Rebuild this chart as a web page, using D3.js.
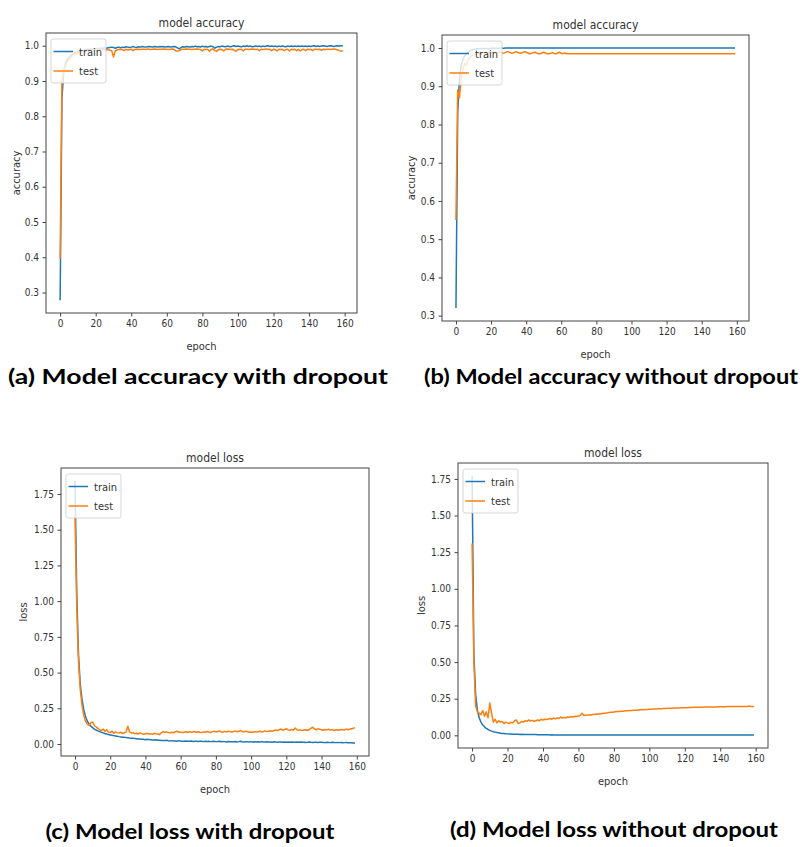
<!DOCTYPE html>
<html>
<head>
<meta charset="utf-8">
<script src="https://cdn.jsdelivr.net/npm/d3@7"></script>
<style>
  body { margin: 0; background: #fff; }
  svg text { font-family: "DejaVu Sans", sans-serif; font-stretch: condensed; fill: #333; }
  svg text.caption { font-family: Lato, "Open Sans", sans-serif; font-weight: bold; font-stretch: normal; fill: #000; }
</style>
</head>
<body>
<svg id="chart" width="802" height="847"></svg>
<script>
const xTicks = [0, 20, 40, 60, 80, 100, 120, 140, 160];
const accTicks = [0.3, 0.4, 0.5, 0.6, 0.7, 0.8, 0.9, 1.0];
const lossTicks = [0, 0.25, 0.5, 0.75, 1.0, 1.25, 1.5, 1.75];
const seriesNames = ["train", "test"];

// (a) accuracy, with dropout
const accTrainDrop = [
  0.278,0.850,0.925,0.950,0.962,0.968,0.972,0.976,0.979,0.981,
  0.983,0.985,0.986,0.987,0.988,0.989,0.990,0.990,0.991,0.991,
  0.992,0.992,0.993,0.992,0.993,0.994,0.993,0.994,0.995,0.996,
  0.995,0.993,0.995,0.996,0.994,0.996,0.995,0.997,0.996,0.995,
  0.996,0.998,0.996,0.995,0.997,0.996,0.998,0.997,0.996,0.997,
  0.998,0.997,0.996,0.998,0.997,0.996,0.998,0.997,0.998,0.996,
  0.997,0.998,0.996,0.997,0.998,0.997,0.994,0.991,0.995,0.997,
  0.996,0.998,0.997,0.996,0.998,0.997,0.999,0.997,0.998,0.996,
  0.999,0.997,0.998,0.996,0.998,0.999,0.997,0.993,0.996,0.998,
  0.997,0.999,0.998,0.997,0.999,0.998,0.997,0.999,1.000,0.998,
  0.999,0.998,0.997,0.999,0.998,1.000,0.998,0.999,0.997,0.998,
  0.999,0.998,0.999,0.997,0.999,0.998,0.999,1.000,0.998,0.999,
  0.998,0.999,0.997,0.999,0.998,0.999,0.998,0.997,0.999,0.998,
  0.999,0.998,0.999,0.998,0.999,0.998,0.999,0.998,0.999,0.998,
  0.999,0.998,0.999,1.000,0.998,0.999,0.998,0.999,1.000,0.999,
  0.998,0.999,1.000,0.999,0.998,0.999,1.000,0.999,1.000,1.000
];
const accTestDrop = [
  0.395,0.900,0.925,0.945,0.955,0.962,0.967,0.972,0.975,0.978,
  0.980,0.982,0.983,0.984,0.985,0.986,0.986,0.987,0.987,0.988,
  0.988,0.987,0.988,0.989,0.988,0.989,0.988,0.989,0.987,0.986,
  0.968,0.985,0.988,0.989,0.990,0.989,0.986,0.990,0.988,0.989,
  0.990,0.986,0.990,0.989,0.990,0.989,0.990,0.990,0.989,0.991,
  0.990,0.989,0.990,0.991,0.990,0.989,0.990,0.990,0.991,0.990,
  0.990,0.989,0.990,0.991,0.990,0.985,0.985,0.986,0.989,0.990,
  0.990,0.991,0.990,0.990,0.989,0.990,0.990,0.991,0.990,0.989,
  0.985,0.990,0.989,0.990,0.984,0.990,0.991,0.986,0.984,0.989,
  0.990,0.989,0.985,0.990,0.991,0.990,0.989,0.990,0.987,0.984,
  0.990,0.989,0.990,0.985,0.990,0.990,0.989,0.990,0.991,0.990,
  0.989,0.990,0.986,0.990,0.989,0.990,0.991,0.989,0.990,0.986,
  0.990,0.989,0.985,0.990,0.989,0.990,0.986,0.989,0.990,0.985,
  0.990,0.989,0.990,0.986,0.990,0.985,0.989,0.990,0.986,0.990,
  0.989,0.990,0.986,0.990,0.990,0.989,0.990,0.987,0.990,0.989,
  0.990,0.990,0.989,0.990,0.991,0.990,0.988,0.986,0.985,0.985
];

// (b) accuracy, without dropout
const accTrainNoDrop = [
  0.320,0.830,0.920,0.955,0.970,0.980,0.985,0.990,0.993,0.995,
  0.996,0.997,0.998,0.998,0.999,0.998,0.999,0.999,0.998,0.999,
  0.999,1.000,0.999,1.000,0.999,1.000,1.000,0.999,1.000,1.000,
  1,1,1,1,1,1,1,1,1,1, 1,1,1,1,1,1,1,1,1,1,
  1,1,1,1,1,1,1,1,1,1, 1,1,1,1,1,1,1,1,1,1,
  1,1,1,1,1,1,1,1,1,1, 1,1,1,1,1,1,1,1,1,1,
  1,1,1,1,1,1,1,1,1,1, 1,1,1,1,1,1,1,1,1,1,
  1,1,1,1,1,1,1,1,1,1, 1,1,1,1,1,1,1,1,1,1,
  1,1,1,1,1,1,1,1,1,1, 1,1,1,1,1,1,1,1,1,1,
  1,1,1,1,1,1,1,1,1,1
];
const accTestNoDrop = [
  0.550,0.890,0.870,0.920,0.945,0.960,0.955,0.970,0.975,0.980,
  0.982,0.984,0.986,0.987,0.988,0.987,0.988,0.989,0.988,0.989,
  0.988,0.989,0.988,0.987,0.988,0.989,0.988,0.986,0.988,0.990,
  0.990,0.988,0.986,0.988,0.990,0.989,0.987,0.986,0.988,0.990,
  0.989,0.987,0.985,0.986,0.988,0.989,0.987,0.985,0.985,0.987,
  0.989,0.987,0.985,0.985,0.986,0.988,0.985,0.985,0.987,0.989,
  0.986,0.985,0.987,0.985,0.985,0.985,0.985,0.985,0.985,0.985,
  0.985,0.985,0.985,0.985,0.985,0.985,0.985,0.985,0.985,0.985,
  0.985,0.985,0.985,0.985,0.985,0.985,0.985,0.985,0.985,0.985,
  0.985,0.985,0.985,0.985,0.985,0.985,0.985,0.985,0.985,0.985,
  0.985,0.985,0.985,0.985,0.985,0.985,0.985,0.985,0.985,0.985,
  0.985,0.985,0.985,0.985,0.985,0.985,0.985,0.985,0.985,0.985,
  0.985,0.985,0.985,0.985,0.985,0.985,0.985,0.985,0.985,0.985,
  0.985,0.985,0.985,0.985,0.985,0.985,0.985,0.985,0.985,0.985,
  0.985,0.985,0.985,0.985,0.985,0.985,0.985,0.985,0.985,0.985,
  0.985,0.985,0.985,0.985,0.985,0.985,0.985,0.985,0.985,0.985
];

// (c) loss, with dropout
const lossTrainDrop = [
  1.840,1.050,0.620,0.420,0.310,0.240,0.190,0.160,0.140,0.125,
  0.115,0.105,0.098,0.092,0.087,0.082,0.078,0.074,0.070,0.067,
  0.064,0.061,0.059,0.057,0.055,0.052,0.050,0.048,0.047,0.045,
  0.044,0.042,0.041,0.040,0.038,0.037,0.036,0.035,0.034,0.033,
  0.030,0.033,0.031,0.030,0.029,0.028,0.030,0.027,0.026,0.025,
  0.025,0.024,0.026,0.023,0.022,0.024,0.021,0.022,0.020,0.024,
  0.021,0.020,0.019,0.022,0.020,0.019,0.021,0.018,0.020,0.019,
  0.018,0.020,0.019,0.017,0.019,0.018,0.020,0.017,0.018,0.019,
  0.017,0.018,0.020,0.016,0.018,0.017,0.015,0.018,0.016,0.017,
  0.016,0.018,0.015,0.017,0.020,0.016,0.015,0.017,0.016,0.015,
  0.017,0.015,0.016,0.014,0.016,0.015,0.017,0.014,0.015,0.016,
  0.014,0.015,0.013,0.016,0.014,0.013,0.015,0.014,0.012,0.014,
  0.013,0.014,0.012,0.015,0.013,0.012,0.014,0.013,0.015,0.012,
  0.013,0.011,0.012,0.014,0.012,0.011,0.013,0.012,0.011,0.013,
  0.012,0.011,0.010,0.012,0.011,0.010,0.012,0.011,0.010,0.011,
  0.010,0.011,0.009,0.010,0.011,0.009,0.010,0.009,0.008,0.008
];
const lossTestDrop = [
  1.600,0.950,0.580,0.380,0.270,0.200,0.160,0.140,0.130,0.150,
  0.155,0.130,0.120,0.110,0.100,0.095,0.105,0.090,0.100,0.085,
  0.080,0.090,0.075,0.085,0.080,0.078,0.082,0.074,0.079,0.085,
  0.125,0.085,0.078,0.080,0.072,0.076,0.070,0.078,0.073,0.068,
  0.072,0.075,0.070,0.073,0.068,0.075,0.072,0.070,0.066,0.078,
  0.088,0.082,0.085,0.080,0.079,0.083,0.078,0.087,0.090,0.082,
  0.085,0.080,0.083,0.086,0.081,0.087,0.082,0.085,0.088,0.083,
  0.086,0.082,0.080,0.085,0.083,0.088,0.084,0.081,0.087,0.090,
  0.085,0.088,0.092,0.086,0.083,0.089,0.085,0.090,0.087,0.084,
  0.088,0.092,0.086,0.089,0.095,0.087,0.085,0.089,0.086,0.083,
  0.085,0.082,0.087,0.084,0.086,0.090,0.085,0.088,0.092,0.087,
  0.090,0.093,0.089,0.095,0.098,0.094,0.100,0.105,0.097,0.102,
  0.108,0.099,0.095,0.103,0.097,0.112,0.100,0.096,0.099,0.094,
  0.098,0.100,0.095,0.102,0.110,0.118,0.105,0.100,0.108,0.103,
  0.100,0.097,0.102,0.099,0.104,0.098,0.101,0.095,0.098,0.100,
  0.097,0.102,0.100,0.098,0.105,0.100,0.103,0.107,0.110,0.115
];

// (d) loss, without dropout
const lossTrainNoDrop = [
  1.770,0.550,0.280,0.170,0.120,0.090,0.070,0.058,0.048,0.040,
  0.034,0.029,0.025,0.022,0.019,0.017,0.015,0.013,0.012,0.011,
  0.010,0.009,0.009,0.008,0.008,0.007,0.007,0.006,0.007,0.006,
  0.006,0.005,0.006,0.005,0.005,0.005,0.006,0.004,0.004,0.004,
  0.004,0.004,0.004,0.004,0.003,0.004,0.003,0.003,0.003,0.003,
  0.003,0.003,0.003,0.003,0.003,0.003,0.003,0.003,0.003,0.003,
  0.003,0.003,0.003,0.003,0.003,0.003,0.003,0.003,0.003,0.003,
  0.003,0.003,0.003,0.003,0.003,0.003,0.003,0.003,0.003,0.003,
  0.003,0.003,0.003,0.003,0.003,0.003,0.003,0.003,0.003,0.003,
  0.003,0.003,0.003,0.003,0.003,0.003,0.003,0.003,0.003,0.003,
  0.002,0.002,0.002,0.002,0.002,0.002,0.002,0.002,0.002,0.002,
  0.002,0.002,0.002,0.002,0.002,0.002,0.002,0.002,0.002,0.002,
  0.002,0.002,0.002,0.002,0.002,0.002,0.002,0.002,0.002,0.002,
  0.002,0.002,0.002,0.002,0.002,0.002,0.002,0.002,0.002,0.002,
  0.002,0.002,0.002,0.002,0.002,0.002,0.002,0.002,0.002,0.002,
  0.002,0.002,0.002,0.002,0.002,0.002,0.002,0.002,0.002,0.002
];
const lossTestNoDrop = [
  1.310,0.500,0.200,0.160,0.150,0.140,0.170,0.130,0.160,0.120,
  0.220,0.150,0.090,0.110,0.085,0.100,0.090,0.095,0.080,0.090,
  0.085,0.080,0.090,0.085,0.100,0.105,0.080,0.085,0.095,0.090,
  0.100,0.095,0.105,0.098,0.102,0.095,0.100,0.105,0.100,0.110,
  0.105,0.110,0.108,0.112,0.115,0.110,0.118,0.112,0.120,0.115,
  0.125,0.118,0.122,0.120,0.126,0.123,0.128,0.125,0.130,0.128,
  0.132,0.135,0.150,0.135,0.137,0.138,0.140,0.139,0.142,0.143,
  0.145,0.144,0.147,0.148,0.150,0.151,0.153,0.155,0.157,0.158,
  0.160,0.161,0.162,0.163,0.164,0.165,0.166,0.167,0.168,0.169,
  0.170,0.171,0.171,0.172,0.173,0.174,0.175,0.175,0.176,0.177,
  0.178,0.178,0.179,0.180,0.180,0.181,0.182,0.182,0.183,0.183,
  0.184,0.184,0.185,0.185,0.186,0.186,0.187,0.187,0.188,0.188,
  0.189,0.189,0.190,0.190,0.190,0.191,0.191,0.191,0.192,0.192,
  0.192,0.193,0.193,0.193,0.193,0.194,0.194,0.194,0.194,0.195,
  0.195,0.195,0.195,0.195,0.196,0.196,0.196,0.196,0.196,0.196,
  0.197,0.197,0.197,0.197,0.197,0.197,0.198,0.198,0.197,0.197
];

const colors = ["#1f77b4", "#ff7f0e"];

const panels = [
  { title: "model accuracy", yLabel: "accuracy", train: accTrainDrop, test: accTestDrop,
    ticks: accTicks, fmt: ".1f", left: 46, top: 33, right: 357, bottom: 313, yLabelOff: 30,
    caption: "(a) Model accuracy with dropout", capX: 198, capY: 384, capW: 380 },
  { title: "model accuracy", yLabel: "accuracy", train: accTrainNoDrop, test: accTestNoDrop,
    ticks: accTicks, fmt: ".1f", left: 442, top: 35, right: 749, bottom: 321, yLabelOff: 31,
    caption: "(b) Model accuracy without dropout", capX: 611, capY: 384, capW: 374 },
  { title: "model loss", yLabel: "loss", train: lossTrainDrop, test: lossTestDrop,
    ticks: lossTicks, fmt: ".2f", left: 61, top: 468, right: 369, bottom: 756, yLabelOff: 38,
    caption: "(c) Model loss with dropout", capX: 190, capY: 839, capW: 289 },
  { title: "model loss", yLabel: "loss", train: lossTrainNoDrop, test: lossTestNoDrop,
    ticks: lossTicks, fmt: ".2f", left: 458, top: 463, right: 768, bottom: 748, yLabelOff: 37,
    caption: "(d) Model loss without dropout", capX: 614, capY: 837, capW: 328 },
];

const svg = d3.select("#chart");

// matplotlib-style 5% padding around the data extent
function padded(ext) {
  const d = (ext[1] - ext[0]) * 0.05;
  return [ext[0] - d, ext[1] + d];
}

panels.forEach((p) => {
  const series = [p.train, p.test];
  const g = svg.append("g");

  const x = d3.scaleLinear()
    .domain(padded([0, p.train.length - 1]))
    .range([p.left, p.right]);
  const y = d3.scaleLinear()
    .domain(padded(d3.extent(series.flat())))
    .range([p.bottom, p.top]);

  g.append("g")
    .attr("transform", `translate(0,${p.bottom})`)
    .call(d3.axisBottom(x).tickValues(xTicks).tickSize(3.5).tickPadding(3.5).tickFormat(d3.format("d")))
    .call((a) => a.select(".domain").remove());

  g.append("g")
    .attr("transform", `translate(${p.left},0)`)
    .call(d3.axisLeft(y).tickValues(p.ticks).tickSize(3.5).tickPadding(3.5).tickFormat(d3.format(p.fmt)))
    .call((a) => a.select(".domain").remove());

  g.selectAll(".tick line").attr("stroke", "#444");
  g.selectAll(".tick text").attr("font-size", 10).attr("fill", "#333")
    .style("font-family", "'DejaVu Sans', sans-serif");

  const line = d3.line()
    .x((d, i) => x(i))
    .y((d) => y(d));

  g.selectAll("path.series")
    .data(series)
    .join("path")
    .attr("class", "series")
    .attr("fill", "none")
    .attr("stroke", (d, i) => colors[i])
    .attr("stroke-width", 1.5)
    .attr("stroke-linejoin", "round")
    .attr("d", line);

  // frame
  g.append("rect")
    .attr("x", p.left).attr("y", p.top)
    .attr("width", p.right - p.left).attr("height", p.bottom - p.top)
    .attr("fill", "none").attr("stroke", "#444").attr("stroke-width", 1);

  // legend
  const lg = g.append("g").attr("transform", `translate(${p.left + 5},${p.top + 6})`);
  lg.append("rect")
    .attr("width", 55).attr("height", 44).attr("rx", 2.5)
    .attr("fill", "#fff").attr("fill-opacity", 0.8)
    .attr("stroke", "#ccc").attr("stroke-width", 0.8);
  seriesNames.forEach((name, i) => {
    const ly = 12.5 + i * 19.5;
    lg.append("line")
      .attr("x1", 2.5).attr("x2", 22).attr("y1", ly).attr("y2", ly)
      .attr("stroke", colors[i]).attr("stroke-width", 1.5);
    lg.append("text")
      .attr("x", 28).attr("y", ly + 4)
      .attr("font-size", 11)
      .text(name);
  });

  // title and axis labels
  g.append("text")
    .attr("x", (p.left + p.right) / 2).attr("y", p.top - 6)
    .attr("text-anchor", "middle").attr("font-size", 12)
    .text(p.title);

  g.append("text")
    .attr("x", (p.left + p.right) / 2).attr("y", p.bottom + 37)
    .attr("text-anchor", "middle").attr("font-size", 11)
    .text("epoch");

  g.append("text")
    .attr("transform", `translate(${p.left - p.yLabelOff},${(p.top + p.bottom) / 2}) rotate(-90)`)
    .attr("text-anchor", "middle").attr("dy", "0.35em").attr("font-size", 11)
    .text(p.yLabel);

  svg.append("text")
    .attr("class", "caption")
    .attr("x", p.capX).attr("y", p.capY)
    .attr("text-anchor", "middle").attr("font-size", 21)
    .attr("textLength", p.capW).attr("lengthAdjust", "spacingAndGlyphs")
    .text(p.caption);
});
</script>
</body>
</html>
